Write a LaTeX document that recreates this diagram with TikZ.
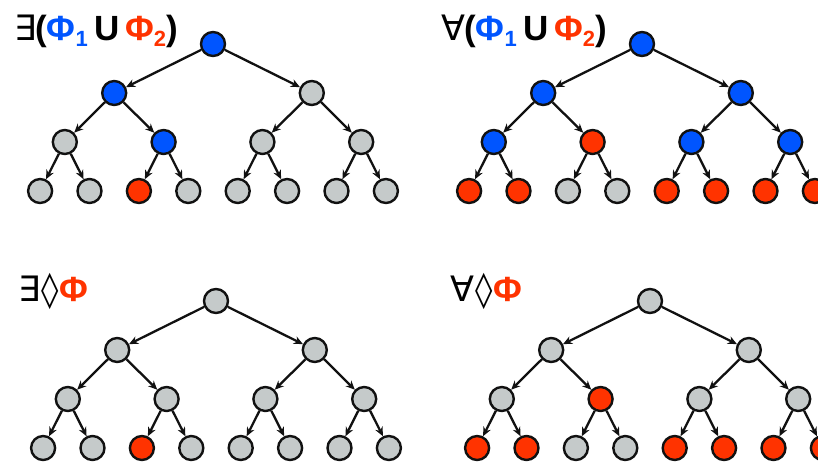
\documentclass[tikz,border=0pt]{standalone}
\usepackage{fontspec}
\setmainfont{Liberation Sans}
\newfontfamily\symfont{DejaVu Sans}
\usetikzlibrary{arrows.meta}
\definecolor{nb}{HTML}{0055FF}
\definecolor{nr}{HTML}{FF3300}
\definecolor{ng}{HTML}{C5CACA}
\definecolor{nk}{HTML}{111111}
\newcommand\lsub[1]{\raisebox{-6pt}{\fontsize{22}{22}\selectfont #1}}
\newcommand\lsym[1]{{\symfont\mdseries #1}}
\newcommand\drawtree[4]{%
  \foreach \c [count=\k] in {#4}{%
    \pgfmathtruncatemacro\d{\k>=8?3:(\k>=4?2:(\k>=2?1:0))}%
    \pgfmathsetmacro\xx{#2+(\k-2^\d-(2^\d-1)/2)*49.4*2^(3-\d)}%
    \pgfmathsetmacro\yy{#3+\d*49}%
    \node[tnode,fill=n\c] (#1n\k) at (\xx,\yy) {};
  }%
  \foreach \k in {2,...,15}{%
    \pgfmathtruncatemacro\p{int(\k/2)}%
    \draw[edge] (#1n\p) -- (#1n\k);
  }%
}
\tikzset{
  tnode/.style={circle,draw=nk,line width=2.4pt,minimum size=24pt,inner sep=0pt},
  edge/.style={draw=nk,line width=2.3pt,-{Stealth[length=9pt,width=8pt]}},
  lab/.style={inner sep=0pt,font=\fontsize{35}{40}\selectfont\bfseries}
}
\begin{document}
\begin{tikzpicture}[x=1pt,y=-1pt]
\useasboundingbox (0,0) rectangle (818,461);
\drawtree{a}{213}{44}{b,b,g,g,b,g,g,g,g,r,g,g,g,g,g}
\drawtree{b}{642}{44}{b,b,b,b,r,b,b,r,r,g,g,r,r,r,r}
\drawtree{c}{216}{301}{g,g,g,g,g,g,g,g,g,r,g,g,g,g,g}
\drawtree{d}{650}{301}{g,g,g,g,r,g,g,r,r,g,g,r,r,r,r}
\node[lab,anchor=base west] (lab1) at (14,40) {\lsym{∃}\kern-1pt(\textcolor{nb}{Φ\lsub{1}}\hspace{7pt}U\hspace{5pt}\textcolor{nr}{Φ\lsub{2}})};
\node[lab,anchor=base west] (lab2) at (441,40) {\lsym{∀}\kern-1pt(\textcolor{nb}{Φ\lsub{1}}\hspace{7pt}U\hspace{5pt}\textcolor{nr}{Φ\lsub{2}})};
\node[lab,anchor=base west] (lab3) at (18,301) {\lsym{∃\kern1pt◊}\kern1pt\textcolor{nr}{Φ}};
\node[lab,anchor=base west] (lab4) at (450,301) {\lsym{∀\kern1pt◊}\kern1pt\textcolor{nr}{Φ}};
\end{tikzpicture}
\end{document}
